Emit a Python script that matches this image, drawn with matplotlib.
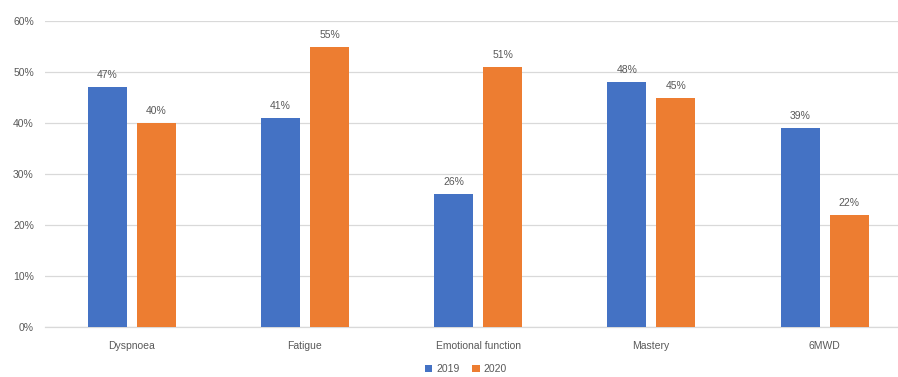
import numpy as np
import matplotlib.pyplot as plt
from matplotlib.ticker import PercentFormatter

plt.rcParams.update({
    "font.family": ["Liberation Sans", "DejaVu Sans"],
    "font.size": 7.5,
    "text.color": "#595959",
    "xtick.color": "#595959",
    "ytick.color": "#595959",
})

categories = ["Dyspnoea", "Fatigue", "Emotional function", "Mastery", "6MWD"]
years = ["2019", "2020"]
values_2019 = [47, 41, 26, 48, 39]
values_2020 = [40, 55, 51, 45, 22]
colors = ["#4472C4", "#ED7D31"]

fig = plt.figure(figsize=(8.98, 3.77), dpi=100)
ax = fig.add_axes([45 / 898, 50 / 377, 866 / 898, 306 / 377])

x = np.arange(len(categories))
width = 0.225
offsets = [-0.14, 0.143]
for series, off, col, lab in zip([values_2019, values_2020], offsets, colors, years):
    vals = np.array(series) / 100
    bars = ax.bar(x + off, vals, width, color=col, label=lab, zorder=3)
    for b, v in zip(bars, series):
        ax.annotate(f"{v}%", (b.get_x() + b.get_width() / 2, b.get_height()),
                    xytext=(0, 5), textcoords="offset points",
                    ha="center", va="bottom", fontsize=7.5, color="#595959")

ax.set_xlim(-0.5, len(categories) - 0.5)
ax.set_ylim(0, 0.6)
ax.set_yticks(np.arange(0, 0.61, 0.1))
ax.yaxis.set_major_formatter(PercentFormatter(1.0, decimals=0))
ax.set_xticks(x)
ax.set_xticklabels(categories)
ax.tick_params(axis="both", length=0)
ax.tick_params(axis="x", pad=10)
ax.tick_params(axis="y", pad=8)
ax.grid(axis="y", color="#D9D9D9", lw=0.9, zorder=0)
for s in ["top", "right", "left"]:
    ax.spines[s].set_visible(False)
ax.spines["bottom"].set_color("#D9D9D9")
ax.spines["bottom"].set_linewidth(0.9)

handles, labels = ax.get_legend_handles_labels()
fig.legend(handles, labels, loc="center", bbox_to_anchor=(466 / 898, 8 / 377),
           ncol=2, frameon=False, handlelength=0.7, handleheight=0.7,
           columnspacing=1.2, handletextpad=0.4, fontsize=7.5)

fig.savefig("out.png", dpi=100)
